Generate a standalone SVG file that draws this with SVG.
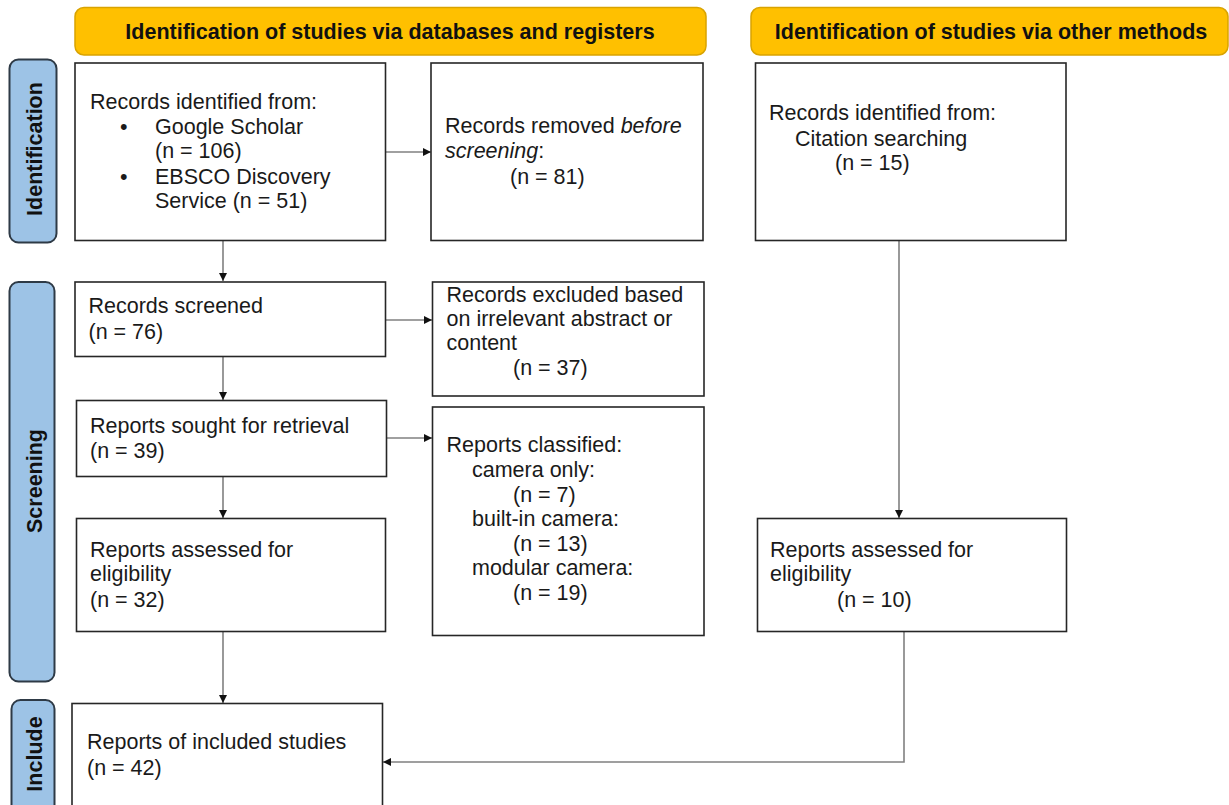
<svg xmlns="http://www.w3.org/2000/svg" width="1229" height="805" viewBox="0 0 1229 805">
<style>
text{font-family:"Liberation Sans",Arial,sans-serif;font-size:21.5px;fill:#1a1a1a}
.hdr rect{fill:#FFC000;stroke:#D9A300;stroke-width:1.5}
.hdr text{font-weight:bold;text-anchor:middle;fill:#111}
.side rect{fill:#9DC3E6;stroke:#2E3A46;stroke-width:2}
.side text{font-weight:bold;text-anchor:middle;fill:#111}
.box rect{fill:#fff;stroke:#262626;stroke-width:1.6}
.conn path{fill:none;stroke:#808080;stroke-width:1.6}
</style>
<defs>
<marker id="ah" viewBox="0 0 10 10" refX="10" refY="5" markerWidth="9" markerHeight="8" markerUnits="userSpaceOnUse" orient="auto">
<path d="M0,0 L10,5 L0,10 z" fill="#111"/>
</marker>
</defs>
<rect width="1229" height="805" fill="#fff"/>

<g id="hdr1" class="hdr"><rect x="75" y="7.5" width="631" height="47.5" rx="9"/><text x="390" y="39">Identification of studies via databases and registers</text></g>
<g id="hdr2" class="hdr"><rect x="751" y="7.5" width="477" height="47.5" rx="9"/><text x="991" y="39">Identification of studies via other methods</text></g>

<g id="side-identification" class="side"><rect x="9.5" y="59.5" width="47" height="183" rx="9"/><text transform="translate(41.5,149) rotate(-90)">Identification</text></g>
<g id="side-screening" class="side"><rect x="9.5" y="282" width="45" height="399.5" rx="9"/><text transform="translate(41.5,481) rotate(-90)">Screening</text></g>
<g id="side-include" class="side"><rect x="11.5" y="700" width="43" height="120" rx="9"/><text transform="translate(41.5,754) rotate(-90)">Include</text></g>

<g id="connectors" class="conn">
<path d="M223,241 V281" marker-end="url(#ah)"/>
<path d="M386,152 H431" marker-end="url(#ah)"/>
<path d="M386,320 H432" marker-end="url(#ah)"/>
<path d="M223,357 V400" marker-end="url(#ah)"/>
<path d="M387,438 H432" marker-end="url(#ah)"/>
<path d="M223,477 V518" marker-end="url(#ah)"/>
<path d="M223,632 V703" marker-end="url(#ah)"/>
<path d="M899,241 V518" marker-end="url(#ah)"/>
<path d="M904,632 V762 H383" marker-end="url(#ah)"/>
</g>

<g id="records-identified" class="box"><rect x="75" y="63" width="310.5" height="177.5"/>
<text x="90" y="109">Records identified from:</text>
<text x="120" y="133.5">•</text><text x="155" y="133.5">Google Scholar</text>
<text x="155" y="158">(n = 106)</text>
<text x="120" y="183.5">•</text><text x="155" y="183.5">EBSCO Discovery</text>
<text x="155" y="208">Service (n = 51)</text></g>

<g id="records-removed" class="box"><rect x="431" y="63" width="272" height="177.5"/>
<text x="445" y="133">Records removed <tspan font-style="italic">before</tspan></text>
<text x="445" y="158"><tspan font-style="italic">screening</tspan>:</text>
<text x="510" y="184">(n = 81)</text></g>

<g id="records-citation" class="box"><rect x="755.5" y="63" width="310.5" height="177.5"/>
<text x="769" y="120">Records identified from:</text>
<text x="795" y="145.5">Citation searching</text>
<text x="835" y="170">(n = 15)</text></g>

<g id="records-screened" class="box"><rect x="75" y="282" width="310.5" height="74.5"/>
<text x="88.5" y="313">Records screened</text>
<text x="88.5" y="339">(n = 76)</text></g>

<g id="records-excluded" class="box"><rect x="432.5" y="282" width="271.5" height="114"/>
<text x="446.5" y="302">Records excluded based</text>
<text x="446.5" y="326">on irrelevant abstract or</text>
<text x="446.5" y="350">content</text>
<text x="513" y="375">(n = 37)</text></g>

<g id="reports-sought" class="box"><rect x="76.5" y="400.5" width="310" height="76"/>
<text x="90" y="433">Reports sought for retrieval</text>
<text x="90" y="458">(n = 39)</text></g>

<g id="reports-classified" class="box"><rect x="432.5" y="407" width="271.5" height="228.5"/>
<text x="446.5" y="451.5">Reports classified:</text>
<text x="472" y="476.5">camera only:</text>
<text x="513" y="501.5">(n = 7)</text>
<text x="472" y="526">built-in camera:</text>
<text x="513" y="551">(n = 13)</text>
<text x="472" y="575">modular camera:</text>
<text x="513" y="600">(n = 19)</text></g>

<g id="reports-assessed" class="box"><rect x="76.5" y="518.5" width="309" height="113"/>
<text x="90" y="556.5">Reports assessed for</text>
<text x="90" y="581">eligibility</text>
<text x="90" y="606.5">(n = 32)</text></g>

<g id="reports-assessed-other" class="box"><rect x="757.5" y="518.5" width="309" height="113"/>
<text x="770" y="556.5">Reports assessed for</text>
<text x="770" y="581">eligibility</text>
<text x="837" y="606.5">(n = 10)</text></g>

<g id="reports-included" class="box"><rect x="72" y="703.5" width="310.5" height="120"/>
<text x="87" y="749">Reports of included studies</text>
<text x="87" y="775">(n = 42)</text></g>
</svg>
